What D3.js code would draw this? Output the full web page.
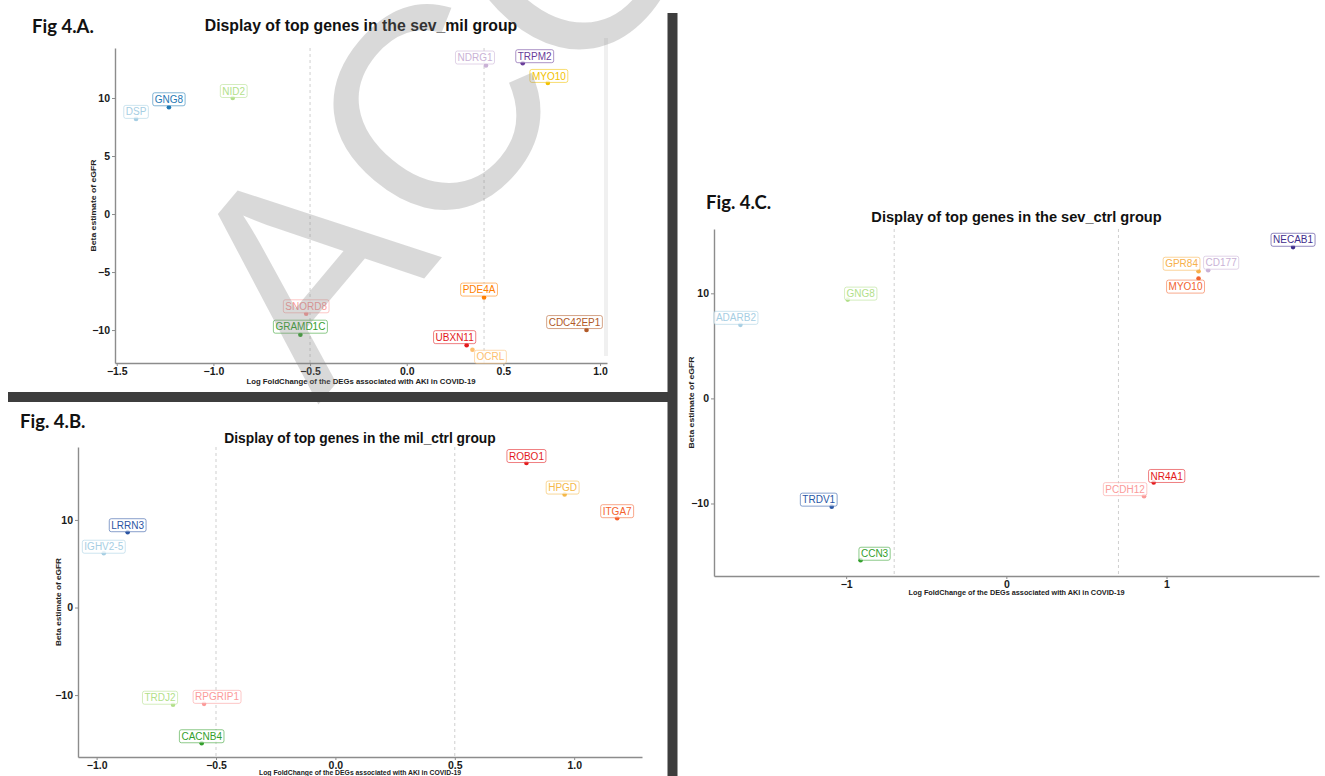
<!DOCTYPE html>
<html>
<head>
<meta charset="utf-8">
<script src="https://cdn.jsdelivr.net/npm/d3@7"></script>
<style>
  body { margin: 0; background: #fff; }
  svg { display: block; }
</style>
</head>
<body>
<div id="chart"></div>
<script>
// panel A : sev_mil
const genesA = ["DSP", "GNG8", "NID2", "GRAMD1C", "SNORD8", "UBXN11", "OCRL", "PDE4A", "NDRG1", "TRPM2", "MYO10", "CDC42EP1"];
const lfcA = [-1.40, -1.23, -0.90, -0.55, -0.52, 0.31, 0.34, 0.40, 0.41, 0.60, 0.73, 0.93];
const betaA = [8.2, 9.2, 10.0, -10.4, -8.6, -11.3, -11.7, -7.2, 12.8, 13.0, 11.3, -10.0];
const colorsA = ["#a6cee3", "#1f78b4", "#b2df8a", "#33a02c", "#fb9a99", "#e31a1c", "#fdbf6f", "#ff7f00", "#cab2d6", "#6a3d9a", "#f2c200", "#b15928"];
const xTicksA = [-1.5, -1.0, -0.5, 0.0, 0.5, 1.0];
const yTicksA = [-10, -5, 0, 5, 10];
const cutsA = [-0.5, 0.4];

// panel B : mil_ctrl
const genesB = ["IGHV2-5", "LRRN3", "TRDJ2", "CACNB4", "RPGRIP1", "ROBO1", "HPGD", "ITGA7"];
const lfcB = [-0.97, -0.87, -0.68, -0.56, -0.55, 0.80, 0.96, 1.18];
const betaB = [6.2, 8.6, -11.1, -15.5, -11.0, 16.5, 12.9, 10.2];
const colorsB = ["#a6cee3", "#2b55a3", "#b2df8a", "#33a02c", "#fb9a99", "#e31a1c", "#f5b94a", "#f4622d"];
const xTicksB = [-1.0, -0.5, 0.0, 0.5, 1.0];
const yTicksB = [-10, 0, 10];
const cutsB = [-0.5, 0.5];

// panel C : sev_ctrl
const genesC = ["ADARB2", "TRDV1", "GNG8", "CCN3", "PCDH12", "NR4A1", "GPR84", "MYO10", "CD177", "NECAB1"];
const lfcC = [-1.66, -1.09, -0.99, -0.91, 0.86, 0.92, 1.20, 1.20, 1.26, 1.79];
const betaC = [7.0, -10.3, 9.4, -15.4, -9.3, -8.0, 12.1, 11.4, 12.2, 14.4];
const colorsC = ["#a6cee3", "#2856a6", "#b2df8a", "#33a02c", "#fb9a99", "#e31a1c", "#f7b04a", "#f26430", "#cab2d6", "#3f2d8c"];
const xTicksC = [-1, 0, 1];
const yTicksC = [-10, 0, 10];
const cutsC = [-0.7, 0.7];

const xTitle = "Log FoldChange of the DEGs associated with AKI in COVID-19";
const yTitle = "Beta estimate of eGFR";

// where ggrepel put each label, relative to its point (px)
const nudgeA = { DSP: [0, -7], GNG8: [0, -8], NID2: [1, -7], GRAMD1C: [0, -8], SNORD8: [0, -7.5],
  UBXN11: [-12, -8], OCRL: [18, 7], PDE4A: [-5, -8], NDRG1: [-11, -8], TRPM2: [12, -7], MYO10: [1, -7], CDC42EP1: [-12, -8] };
const nudgeB = { "IGHV2-5": [0, -6.5], LRRN3: [0, -7], TRDJ2: [-13, -7], CACNB4: [0, -7], RPGRIP1: [13, -7],
  ROBO1: [0, -7], HPGD: [-2, -7], ITGA7: [0, -7] };
const nudgeC = { ADARB2: [-4.5, -7], TRDV1: [-13, -7], GNG8: [13, -6], CCN3: [14, -6.5], PCDH12: [-19, -7],
  NR4A1: [13, -6.5], GPR84: [-17, -7.5], MYO10: [-13, 8], CD177: [13, -7.5], NECAB1: [0, -7.3] };

const width = 1325, height = 776;
const svg = d3.select("#chart").append("svg")
  .attr("width", width)
  .attr("height", height);

const panels = [
  { fig: "Fig 4.A.", figX: 32, figY: 33, title: "Display of top genes in the sev_mil group", titleY: 31, titleSize: 15.8,
    genes: genesA, lfc: lfcA, beta: betaA, colors: colorsA, nudge: nudgeA, cuts: cutsA,
    xTicks: xTicksA, yTicks: yTicksA, xFmt: d3.format(".1f"),
    left: 115, right: 607, top: 48, bottom: 363, xDomain: [-1.509, 1.036], yDomain: [-12.84, 14.31],
    xTitleY: 384, xTitleLen: 229, yTitleX: 96, yTitleLen: 92 },
  { fig: "Fig. 4.B.", figX: 20, figY: 428, title: "Display of top genes in the mil_ctrl group", titleY: 443, titleSize: 13.8,
    genes: genesB, lfc: lfcB, beta: betaB, colors: colorsB, nudge: nudgeB, cuts: cutsB,
    xTicks: xTicksB, yTicks: yTicksB, xFmt: d3.format(".1f"),
    left: 78, right: 642, top: 447, bottom: 757, xDomain: [-1.078, 1.284], yDomain: [-17.07, 18.33],
    xTitleY: 775, xTitleLen: 202, yTitleX: 61, yTitleLen: 88 },
  { fig: "Fig. 4.C.", figX: 706, figY: 209, title: "Display of top genes in the sev_ctrl group", titleY: 222, titleSize: 14.6,
    genes: genesC, lfc: lfcC, beta: betaC, colors: colorsC, nudge: nudgeC, cuts: cutsC,
    xTicks: xTicksC, yTicks: yTicksC, xFmt: d3.format("d"),
    left: 714, right: 1319, top: 229, bottom: 576, xDomain: [-1.825, 1.952], yDomain: [-16.9, 16.12],
    xTitleY: 595, xTitleLen: 216, yTitleX: 694, yTitleLen: 92 }
];

const sans = "'Liberation Sans', Arial, sans-serif";

// faint strip at the right edge of panel A (drawn first, behind everything)
svg.append("rect")
  .attr("x", 604).attr("y", 38).attr("width", 4).attr("height", 318)
  .attr("fill", "#f0f0f0");

function styleAxis(sel) {
  sel.select(".domain").attr("stroke", "#8c8c8c").attr("stroke-width", 1.4);
  sel.selectAll(".tick line").attr("stroke", "#8c8c8c");
  sel.selectAll(".tick text")
    .attr("fill", "#1a1a1a")
    .style("font-family", sans)
    .style("font-weight", "bold")
    .style("font-size", "10.5px");
}

function drawPanel(p) {
  const x = d3.scaleLinear().domain(p.xDomain).range([p.left, p.right]);
  const y = d3.scaleLinear().domain(p.yDomain).range([p.bottom, p.top]);
  const g = svg.append("g");

  // dashed cut-off lines
  g.selectAll(".cut")
    .data(p.cuts)
    .join("line")
    .attr("x1", d => x(d)).attr("x2", d => x(d))
    .attr("y1", p.top).attr("y2", p.bottom)
    .attr("stroke", "#cfcfcf")
    .attr("stroke-width", 1)
    .attr("stroke-dasharray", "3,3");

  const gx = g.append("g")
    .attr("transform", `translate(0,${p.bottom})`)
    .call(d3.axisBottom(x).tickValues(p.xTicks).tickFormat(p.xFmt).tickSize(3).tickSizeOuter(0).tickPadding(2));
  styleAxis(gx);

  const gy = g.append("g")
    .attr("transform", `translate(${p.left},0)`)
    .call(d3.axisLeft(y).tickValues(p.yTicks).tickFormat(d3.format("d")).tickSize(3).tickSizeOuter(0).tickPadding(2));
  styleAxis(gy);

  // titles
  g.append("text")
    .attr("x", (p.left + p.right) / 2)
    .attr("y", p.titleY)
    .attr("text-anchor", "middle")
    .style("font-family", sans).style("font-weight", "bold").style("font-size", p.titleSize + "px")
    .attr("fill", "#111")
    .text(p.title);

  g.append("text")
    .attr("x", p.figX)
    .attr("y", p.figY)
    .style("font-family", "Lato, 'Open Sans', sans-serif").style("font-weight", "bold").style("font-size", "18.5px")
    .attr("fill", "#111")
    .text(p.fig);

  g.append("text")
    .attr("x", (p.left + p.right) / 2)
    .attr("y", p.xTitleY)
    .attr("text-anchor", "middle")
    .attr("textLength", p.xTitleLen).attr("lengthAdjust", "spacingAndGlyphs")
    .style("font-family", sans).style("font-weight", "bold").style("font-size", "7px")
    .attr("fill", "#222")
    .text(xTitle);

  g.append("text")
    .attr("transform", `translate(${p.yTitleX},${(p.top + p.bottom) / 2}) rotate(-90)`)
    .attr("text-anchor", "middle")
    .attr("textLength", p.yTitleLen).attr("lengthAdjust", "spacingAndGlyphs")
    .style("font-family", sans).style("font-weight", "bold").style("font-size", "7px")
    .attr("fill", "#222")
    .text(yTitle);

  const rows = p.genes.map((gene, i) => ({ gene, lfc: p.lfc[i], beta: p.beta[i], color: p.colors[i] }));

  // points
  g.selectAll(".pt")
    .data(rows)
    .join("circle")
    .attr("cx", d => x(d.lfc))
    .attr("cy", d => y(d.beta))
    .attr("r", 2.3)
    .attr("fill", d => d.color);

  // repelled labels
  const lab = g.selectAll(".lab")
    .data(rows)
    .join("g")
    .attr("transform", d => {
      const n = p.nudge[d.gene] || [0, -7];
      return `translate(${x(d.lfc) + n[0]},${y(d.beta) + n[1]})`;
    });

  lab.append("rect")
    .attr("rx", 2)
    .attr("fill", "#fff")
    .attr("fill-opacity", 0.75)
    .attr("stroke", d => d.color)
    .attr("stroke-opacity", 0.7)
    .attr("stroke-width", 0.8);

  const txt = lab.append("text")
    .attr("text-anchor", "middle")
    .attr("dy", "0.36em")
    .style("font-family", sans)
    .style("font-size", "10px")
    .attr("fill", d => d.color)
    .text(d => d.gene);

  txt.each(function () {
    const w = this.getComputedTextLength();
    d3.select(this.parentNode).select("rect")
      .attr("x", -w / 2 - 2).attr("y", -6.5)
      .attr("width", w + 4).attr("height", 13);
  });
}

panels.forEach(drawPanel);

// "ACCEPTED" watermark
svg.append("text")
  .attr("transform", "translate(318,405) rotate(-50)")
  .style("font-family", sans)
  .style("font-size", "290px")
  .attr("fill", "#808080")
  .attr("fill-opacity", 0.3)
  .text("ACCEPTED");

// dark separators
svg.append("rect").attr("x", 8).attr("y", 392).attr("width", 660).attr("height", 10).attr("fill", "#3d3d3d");
svg.append("rect").attr("x", 667.5).attr("y", 13).attr("width", 10).attr("height", height - 13).attr("fill", "#3d3d3d");
</script>
</body>
</html>
